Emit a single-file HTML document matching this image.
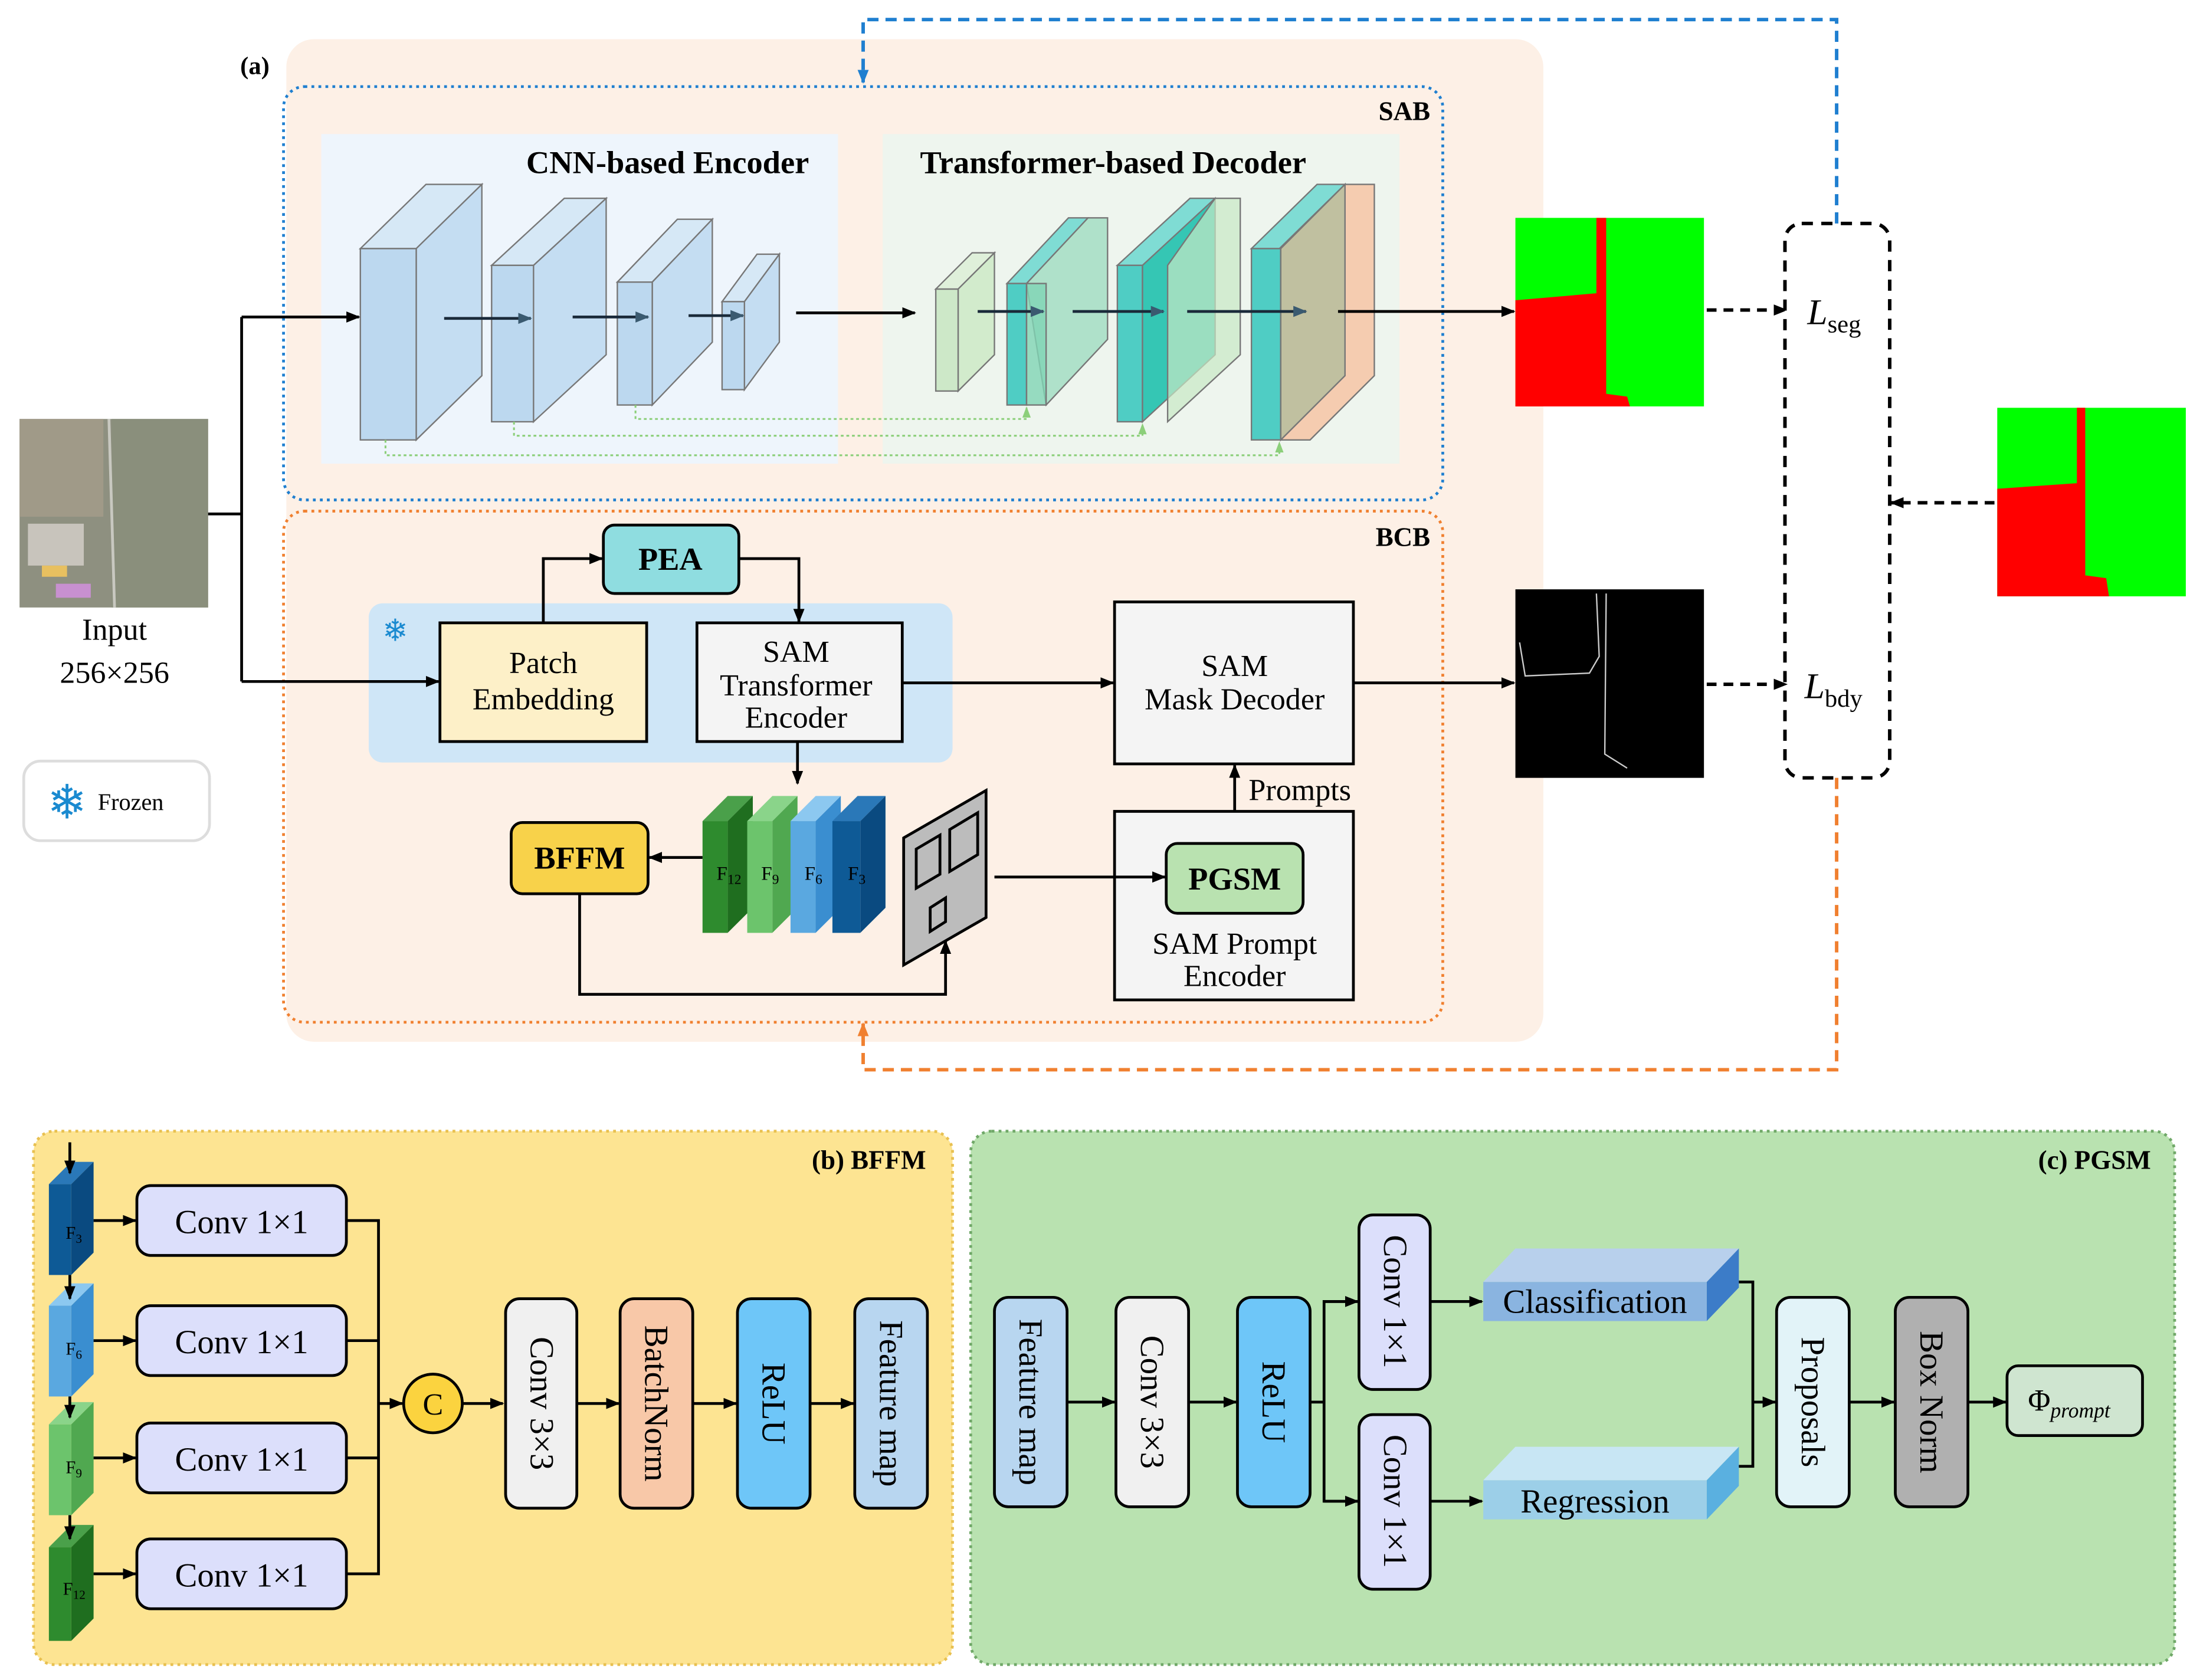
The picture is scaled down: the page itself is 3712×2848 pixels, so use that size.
<!DOCTYPE html>
<html><head><meta charset="utf-8"><style>
html,body{margin:0;padding:0;background:#fff}
svg{display:block}
text{font-family:"Liberation Serif",serif}
</style></head><body>
<svg width="3712" height="2848" viewBox="0 0 1568 1203" xmlns="http://www.w3.org/2000/svg">
<defs>
<marker id="a" markerWidth="10" markerHeight="10" refX="9" refY="5" orient="auto" markerUnits="userSpaceOnUse"><path d="M0,1 L10,5 L0,9 z" fill="#000"/></marker>
<marker id="ab" markerWidth="10" markerHeight="10" refX="9" refY="5" orient="auto" markerUnits="userSpaceOnUse"><path d="M0,1 L10,5 L0,9 z" fill="#1f7fd0"/></marker>
<marker id="ao" markerWidth="10" markerHeight="10" refX="9" refY="5" orient="auto" markerUnits="userSpaceOnUse"><path d="M0,1 L10,5 L0,9 z" fill="#f08030"/></marker>
<marker id="ag" markerWidth="8" markerHeight="8" refX="7" refY="4" orient="auto" markerUnits="userSpaceOnUse"><path d="M0,1 L8,4 L0,7 z" fill="#8ccf7a"/></marker>
<marker id="ad" markerWidth="10" markerHeight="10" refX="9" refY="5" orient="auto" markerUnits="userSpaceOnUse"><path d="M0,1 L10,5 L0,9 z" fill="#3a5a70"/></marker>
</defs>
<rect width="1568" height="1203" fill="#fff"/>
<rect x="205" y="28" width="900" height="718" rx="20" fill="#fdf0e6"/>
<text x="172" y="53" font-size="18" font-weight="bold">(a)</text>
<rect x="203" y="62" width="830" height="296" rx="15" fill="none" stroke="#1f7fd0" stroke-width="2" stroke-dasharray="2,3"/>
<text x="1024" y="86" font-size="19" font-weight="bold" text-anchor="end">SAB</text>
<rect x="230" y="96" width="370" height="236" fill="#eef5fc"/>
<rect x="632" y="96" width="370" height="236" fill="#eef5ee"/>
<text x="478" y="124" font-size="23" font-weight="bold" text-anchor="middle">CNN-based Encoder</text>
<text x="797" y="124" font-size="23" font-weight="bold" text-anchor="middle">Transformer-based Decoder</text>
<g stroke="#777" stroke-width="1">
<polygon points="258,178 305,132 345,132 298,178" fill="#d6e8f6"/><polygon points="298,178 345,132 345,269 298,315" fill="#c4ddf2"/><rect x="258" y="178" width="40" height="137" fill="#bcd8ef"/>
<polygon points="352,190 404,142 434,142 382,190" fill="#d6e8f6"/><polygon points="382,190 434,142 434,254 382,302" fill="#c4ddf2"/><rect x="352" y="190" width="30" height="112" fill="#bcd8ef"/>
<polygon points="442,202 485,157 510,157 467,202" fill="#d6e8f6"/><polygon points="467,202 510,157 510,245 467,290" fill="#c4ddf2"/><rect x="442" y="202" width="25" height="88" fill="#bcd8ef"/>
<polygon points="517,216 542,182 558,182 533,216" fill="#d6e8f6"/><polygon points="533,216 558,182 558,245 533,279" fill="#c4ddf2"/><rect x="517" y="216" width="16" height="63" fill="#bcd8ef"/>
<polygon points="670,207 696,181 712,181 686,207" fill="#dff0da"/><polygon points="686,207 712,181 712,254 686,280" fill="#d2ebcc"/><rect x="670" y="207" width="16" height="73" fill="#cde8c8"/>
<polygon points="721,203 765,156 779,156 735,203" fill="#7fdcd4"/><rect x="721" y="203" width="14" height="87" fill="#4fcdc4"/>
<polygon points="735,203 779,156 793,156 793,243 749,290" fill="#9fdcc0" fill-opacity="0.8"/><rect x="735" y="203" width="14" height="87" fill="#7fd4b4" fill-opacity="0.8"/>
<polygon points="800,190 852,142 870,142 818,190" fill="#7fdcd4"/><rect x="800" y="190" width="18" height="112" fill="#4fcdc4"/><polygon points="818,190 870,142 870,254 818,302" fill="#35c6b4"/>
<polygon points="836,190 870,142 888,142 888,254 836,302" fill="#c8e8c4" fill-opacity="0.7"/>
<polygon points="896,178 943,132 963,132 916,178" fill="#7fdcd4"/><rect x="896" y="178" width="21" height="137" fill="#4fcdc4"/>
<polygon points="917,178 963,132 984,132 984,269 938,315 917,315" fill="#f5c8a8" fill-opacity="0.9"/><polygon points="917,178 963,132 963,269 917,315" fill="#c0c0a0"/>
</g>
<g stroke="#000" stroke-width="2" fill="none">
<line x1="318" y1="228" x2="380" y2="228" marker-end="url(#ad)" stroke="#1a2a3a"/>
<line x1="410" y1="227" x2="464" y2="227" marker-end="url(#ad)" stroke="#1a2a3a"/>
<line x1="493" y1="226" x2="532" y2="226" marker-end="url(#ad)" stroke="#1a2a3a"/>
<line x1="570" y1="224" x2="655" y2="224" marker-end="url(#a)"/>
<line x1="700" y1="223" x2="747" y2="223" marker-end="url(#ad)" stroke="#1a2a3a"/>
<line x1="768" y1="223" x2="833" y2="223" marker-end="url(#ad)" stroke="#1a2a3a"/>
<line x1="850" y1="223" x2="935" y2="223" marker-end="url(#ad)" stroke="#1a2a3a"/>
<line x1="958" y1="223" x2="1084" y2="223" marker-end="url(#a)"/>
</g>
<g stroke="#8ccf7a" stroke-width="1.3" fill="none" stroke-dasharray="2,2">
<polyline points="455,290 455,300 735,300 735,292" marker-end="url(#ag)"/>
<polyline points="368,302 368,312 818,312 818,304" marker-end="url(#ag)"/>
<polyline points="276,315 276,326 916,326 916,317" marker-end="url(#ag)"/>
</g>
<rect x="1085" y="156" width="135" height="135" fill="#00ff00"/>
<polygon points="1085,215 1143,210 1143,156 1150,156 1150,282 1165,284 1167,291 1085,291" fill="#ff0000"/>
<line x1="1222" y1="222" x2="1279" y2="222" stroke="#000" stroke-width="2.5" stroke-dasharray="7,5" marker-end="url(#a)"/>
<rect x="1278" y="160" width="75" height="397" rx="12" fill="#fff" stroke="#000" stroke-width="2.5" stroke-dasharray="8,6"/>
<text x="1294" y="232" font-size="26" font-style="italic">L<tspan font-size="18" font-style="normal" dy="6">seg</tspan></text>
<text x="1292" y="500" font-size="26" font-style="italic">L<tspan font-size="18" font-style="normal" dy="6">bdy</tspan></text>
<rect x="1430" y="292" width="135" height="135" fill="#00ff00"/>
<polygon points="1430,350 1487,346 1487,292 1493,292 1493,412 1508,414 1510,427 1430,427" fill="#ff0000"/>
<line x1="1428" y1="360" x2="1354" y2="360" stroke="#000" stroke-width="2.5" stroke-dasharray="7,5" marker-end="url(#a)"/>
<polyline points="1315,160 1315,14 618,14 618,59" fill="none" stroke="#1f7fd0" stroke-width="2.5" stroke-dasharray="8,5" marker-end="url(#ab)"/>
<polyline points="1315,557 1315,766 618,766 618,733" fill="none" stroke="#f08030" stroke-width="2.5" stroke-dasharray="8,5" marker-end="url(#ao)"/>
<rect x="14" y="300" width="135" height="135" fill="#8e9080"/>
<rect x="14" y="300" width="60" height="70" fill="#a09a88"/>
<rect x="80" y="300" width="69" height="135" fill="#8a8f7c"/>
<line x1="78" y1="300" x2="82" y2="435" stroke="#c8c8c0" stroke-width="2"/>
<rect x="20" y="375" width="40" height="30" fill="#c8c4bc"/>
<rect x="30" y="405" width="18" height="8" fill="#e8c060"/>
<rect x="40" y="418" width="25" height="10" fill="#c890d0"/>
<text x="82" y="458" font-size="22" text-anchor="middle">Input</text>
<text x="82" y="489" font-size="22" text-anchor="middle">256×256</text>
<polyline points="149,368 173,368" stroke="#000" stroke-width="2" fill="none"/>
<polyline points="173,227 173,488" stroke="#000" stroke-width="2" fill="none"/>
<line x1="173" y1="227" x2="257" y2="227" stroke="#000" stroke-width="2" marker-end="url(#a)"/>
<rect x="17" y="545" width="133" height="57" rx="12" fill="#fff" stroke="#ddd" stroke-width="2"/>
<text x="48" y="586" font-size="34" fill="#1a8ad0" text-anchor="middle" font-family="DejaVu Sans">❄</text>
<text x="70" y="580" font-size="17">Frozen</text>
<rect x="203" y="366" width="830" height="366" rx="15" fill="none" stroke="#f08030" stroke-width="2" stroke-dasharray="2,3"/>
<text x="1024" y="391" font-size="19" font-weight="bold" text-anchor="end">BCB</text>
<rect x="264" y="432" width="418" height="114" rx="10" fill="#cfe6f7"/>
<line x1="173" y1="488" x2="314" y2="488" stroke="#000" stroke-width="2" marker-end="url(#a)"/>
<text x="283" y="459" font-size="22" fill="#1a8ad0" text-anchor="middle" font-family="DejaVu Sans">❄</text>
<rect x="315" y="446" width="148" height="85" fill="#fdf0c8" stroke="#000" stroke-width="2"/>
<text x="389" y="482" font-size="22" text-anchor="middle">Patch</text>
<text x="389" y="508" font-size="22" text-anchor="middle">Embedding</text>
<rect x="499" y="446" width="147" height="85" fill="#f4f4f4" stroke="#000" stroke-width="2"/>
<text x="570" y="474" font-size="22" text-anchor="middle">SAM</text>
<text x="570" y="498" font-size="22" text-anchor="middle">Transformer</text>
<text x="570" y="521" font-size="22" text-anchor="middle">Encoder</text>
<rect x="432" y="376" width="97" height="49" rx="8" fill="#8fdde0" stroke="#000" stroke-width="2"/>
<text x="480" y="408" font-size="23" font-weight="bold" text-anchor="middle">PEA</text>
<polyline points="389,446 389,400 431,400" fill="none" stroke="#000" stroke-width="2" marker-end="url(#a)"/>
<polyline points="529,400 572,400 572,445" fill="none" stroke="#000" stroke-width="2" marker-end="url(#a)"/>
<line x1="646" y1="489" x2="797" y2="489" stroke="#000" stroke-width="2" marker-end="url(#a)"/>
<rect x="798" y="431" width="171" height="116" fill="#f4f4f4" stroke="#000" stroke-width="2"/>
<text x="884" y="484" font-size="22" text-anchor="middle">SAM</text>
<text x="884" y="508" font-size="22" text-anchor="middle">Mask Decoder</text>
<line x1="969" y1="489" x2="1084" y2="489" stroke="#000" stroke-width="2" marker-end="url(#a)"/>
<rect x="1085" y="422" width="135" height="135" fill="#000"/>
<polyline points="1143,425 1145,470 1138,482 1092,484 1088,460" fill="none" stroke="#ccc" stroke-width="1"/>
<polyline points="1150,425 1149,540 1165,550" fill="none" stroke="#ccc" stroke-width="1"/>
<line x1="1222" y1="490" x2="1279" y2="490" stroke="#000" stroke-width="2.5" stroke-dasharray="7,5" marker-end="url(#a)"/>
<line x1="571" y1="531" x2="571" y2="561" stroke="#000" stroke-width="2" marker-end="url(#a)"/>
<g>
<polygon points="503,588 521,570 539,570 521,588" fill="#4aa04a"/><polygon points="521,588 539,570 539,650 521,668" fill="#1f6e1f"/><rect x="503" y="588" width="18" height="80" fill="#2e8b2e"/>
<polygon points="535,588 553,570 571,570 553,588" fill="#8ad48a"/><polygon points="553,588 571,570 571,650 553,668" fill="#50a850"/><rect x="535" y="588" width="18" height="80" fill="#6cc46c"/>
<polygon points="566,588 584,570 602,570 584,588" fill="#8cc8f0"/><polygon points="584,588 602,570 602,650 584,668" fill="#3a8ed0"/><rect x="566" y="588" width="18" height="80" fill="#5aa8e0"/>
<polygon points="596,588 614,570 634,570 616,588" fill="#2a78b8"/><polygon points="616,588 634,570 634,650 616,668" fill="#0a4a80"/><rect x="596" y="588" width="20" height="80" fill="#0e5a96"/>
<text x="513" y="630" font-size="14">F<tspan font-size="10" dy="3">12</tspan></text>
<text x="545" y="630" font-size="14">F<tspan font-size="10" dy="3">9</tspan></text>
<text x="576" y="630" font-size="14">F<tspan font-size="10" dy="3">6</tspan></text>
<text x="607" y="630" font-size="14">F<tspan font-size="10" dy="3">3</tspan></text>
</g>
<rect x="366" y="589" width="98" height="51" rx="8" fill="#f8d24a" stroke="#000" stroke-width="2"/>
<text x="415" y="622" font-size="23" font-weight="bold" text-anchor="middle">BFFM</text>
<line x1="503" y1="614" x2="465" y2="614" stroke="#000" stroke-width="2" marker-end="url(#a)"/>
<polygon points="647,600 706,566 706,657 647,691" fill="#bcbcbc" stroke="#000" stroke-width="2"/>
<polygon points="656,608 673,598 673,626 656,636" fill="none" stroke="#000" stroke-width="2"/>
<polygon points="680,594 700,582 700,612 680,624" fill="none" stroke="#000" stroke-width="2"/>
<polygon points="666,650 677,643 677,660 666,667" fill="none" stroke="#000" stroke-width="2"/>
<rect x="798" y="581" width="171" height="135" fill="#f4f4f4" stroke="#000" stroke-width="2"/>
<line x1="712" y1="628" x2="834" y2="628" stroke="#000" stroke-width="2" marker-end="url(#a)"/>
<rect x="835" y="604" width="98" height="50" rx="8" fill="#b9e2b0" stroke="#000" stroke-width="2"/>
<text x="884" y="637" font-size="23" font-weight="bold" text-anchor="middle">PGSM</text>
<text x="884" y="683" font-size="22" text-anchor="middle">SAM Prompt</text>
<text x="884" y="706" font-size="22" text-anchor="middle">Encoder</text>
<line x1="884" y1="581" x2="884" y2="548" stroke="#000" stroke-width="2" marker-end="url(#a)"/>
<text x="894" y="573" font-size="22">Prompts</text>
<polyline points="415,640 415,712 677,712 677,674" fill="none" stroke="#000" stroke-width="2" marker-end="url(#a)"/>
<rect x="24" y="810" width="658" height="382" rx="15" fill="#fde492" stroke="#e8c050" stroke-width="2" stroke-dasharray="2,3"/>
<text x="663" y="837" font-size="19" font-weight="bold" text-anchor="end">(b) BFFM</text>
<g>
<polygon points="35,848 51,832 67,832 51,848" fill="#2a78b8"/><polygon points="51,848 67,832 67,897 51,913" fill="#0a4a80"/><rect x="35" y="848" width="16" height="65" fill="#0e5a96"/>
<polygon points="35,935 51,919 67,919 51,935" fill="#8cc8f0"/><polygon points="51,935 67,919 67,984 51,1000" fill="#3a8ed0"/><rect x="35" y="935" width="16" height="65" fill="#5aa8e0"/>
<polygon points="35,1020 51,1004 67,1004 51,1020" fill="#8ad48a"/><polygon points="51,1020 67,1004 67,1069 51,1085" fill="#50a850"/><rect x="35" y="1020" width="16" height="65" fill="#6cc46c"/>
<polygon points="35,1108 51,1092 67,1092 51,1108" fill="#4aa04a"/><polygon points="51,1108 67,1092 67,1159 51,1175" fill="#1f6e1f"/><rect x="35" y="1108" width="16" height="67" fill="#2e8b2e"/>
<text x="47" y="887" font-size="13">F<tspan font-size="9" dy="3">3</tspan></text>
<text x="47" y="970" font-size="13">F<tspan font-size="9" dy="3">6</tspan></text>
<text x="47" y="1055" font-size="13">F<tspan font-size="9" dy="3">9</tspan></text>
<text x="45" y="1142" font-size="13">F<tspan font-size="9" dy="3">12</tspan></text>
</g>
<g stroke="#000" stroke-width="2" fill="none">
<line x1="50" y1="818" x2="50" y2="840" marker-end="url(#a)"/>
<line x1="50" y1="913" x2="50" y2="930" marker-end="url(#a)"/>
<line x1="50" y1="1000" x2="50" y2="1015" marker-end="url(#a)"/>
<line x1="50" y1="1085" x2="50" y2="1102" marker-end="url(#a)"/>
<line x1="67" y1="874" x2="97" y2="874" marker-end="url(#a)"/>
<line x1="67" y1="960" x2="97" y2="960" marker-end="url(#a)"/>
<line x1="67" y1="1044" x2="97" y2="1044" marker-end="url(#a)"/>
<line x1="67" y1="1127" x2="97" y2="1127" marker-end="url(#a)"/>
<polyline points="248,874 271,874 271,1127 248,1127"/>
<line x1="248" y1="960" x2="271" y2="960"/><line x1="248" y1="1044" x2="271" y2="1044"/>
<line x1="271" y1="1005" x2="288" y2="1005" marker-end="url(#a)"/>
<line x1="331" y1="1005" x2="360" y2="1005" marker-end="url(#a)"/>
<line x1="413" y1="1005" x2="443" y2="1005" marker-end="url(#a)"/>
<line x1="496" y1="1005" x2="527" y2="1005" marker-end="url(#a)"/>
<line x1="580" y1="1005" x2="611" y2="1005" marker-end="url(#a)"/>
</g>
<g stroke="#000" stroke-width="2" fill="#dcdffb">
<rect x="98" y="849" width="150" height="50" rx="10"/>
<rect x="98" y="935" width="150" height="50" rx="10"/>
<rect x="98" y="1019" width="150" height="50" rx="10"/>
<rect x="98" y="1102" width="150" height="50" rx="10"/>
</g>
<g font-size="24" text-anchor="middle">
<text x="173" y="883">Conv 1×1</text><text x="173" y="969">Conv 1×1</text><text x="173" y="1053">Conv 1×1</text><text x="173" y="1136">Conv 1×1</text>
</g>
<circle cx="310" cy="1005" r="21" fill="#fbd33f" stroke="#000" stroke-width="2"/>
<text x="310" y="1013" font-size="22" text-anchor="middle">C</text>
<g stroke="#000" stroke-width="2">
<rect x="362" y="930" width="51" height="150" rx="10" fill="#f0f0f0"/>
<rect x="444" y="930" width="52" height="150" rx="10" fill="#f8c8a8"/>
<rect x="528" y="930" width="52" height="150" rx="10" fill="#6ec6f8"/>
<rect x="612" y="930" width="52" height="150" rx="10" fill="#b8d6f0"/>
</g>
<g font-size="24" text-anchor="middle">
<text transform="translate(380,1005) rotate(90)">Conv 3×3</text>
<text transform="translate(462,1005) rotate(90)">BatchNorm</text>
<text transform="translate(546,1005) rotate(90)">ReLU</text>
<text transform="translate(630,1005) rotate(90)">Feature map</text>
</g>
<rect x="695" y="810" width="862" height="382" rx="15" fill="#b9e2b0" stroke="#70a868" stroke-width="2" stroke-dasharray="2,3"/>
<text x="1540" y="837" font-size="19" font-weight="bold" text-anchor="end">(c) PGSM</text>
<g stroke="#000" stroke-width="2">
<rect x="712" y="929" width="52" height="150" rx="10" fill="#b8d6f0"/>
<rect x="799" y="929" width="52" height="150" rx="10" fill="#f0f0f0"/>
<rect x="886" y="929" width="52" height="150" rx="10" fill="#6ec6f8"/>
<rect x="973" y="870" width="51" height="125" rx="10" fill="#dcdffb"/>
<rect x="973" y="1013" width="51" height="125" rx="10" fill="#dcdffb"/>
<rect x="1272" y="929" width="52" height="150" rx="10" fill="#e2f3f8"/>
<rect x="1357" y="929" width="52" height="150" rx="10" fill="#b0b0b0"/>
<rect x="1437" y="978" width="97" height="50" rx="8" fill="#cfe5d0"/>
</g>
<polygon points="1062,918 1085,894 1245,894 1222,918" fill="#b8d0ec"/>
<polygon points="1222,918 1245,894 1245,922 1222,946" fill="#3c7cc8"/>
<rect x="1062" y="918" width="160" height="28" fill="#8ab4e0"/>
<polygon points="1062,1060 1085,1036 1245,1036 1222,1060" fill="#c8e6f4"/>
<polygon points="1222,1060 1245,1036 1245,1064 1222,1088" fill="#5ab0e0"/>
<rect x="1062" y="1060" width="160" height="28" fill="#9ccfe8"/>
<g font-size="24" text-anchor="middle">
<text transform="translate(730,1004) rotate(90)">Feature map</text>
<text transform="translate(817,1004) rotate(90)">Conv 3×3</text>
<text transform="translate(904,1004) rotate(90)">ReLU</text>
<text transform="translate(991,932) rotate(90)">Conv 1×1</text>
<text transform="translate(991,1075) rotate(90)">Conv 1×1</text>
<text transform="translate(1290,1004) rotate(90)">Proposals</text>
<text transform="translate(1375,1004) rotate(90)">Box Norm</text>
<text x="1142" y="940">Classification</text>
<text x="1142" y="1083">Regression</text>
</g>
<text x="1452" y="1010" font-size="22">Φ<tspan font-size="15" font-style="italic" dy="5">prompt</tspan></text>
<g stroke="#000" stroke-width="2" fill="none">
<line x1="764" y1="1004" x2="798" y2="1004" marker-end="url(#a)"/>
<line x1="851" y1="1004" x2="885" y2="1004" marker-end="url(#a)"/>
<line x1="938" y1="1004" x2="948" y2="1004"/>
<polyline points="972,932 948,932 948,1075 972,1075"/>
<line x1="948" y1="932" x2="972" y2="932" marker-end="url(#a)"/>
<line x1="948" y1="1075" x2="972" y2="1075" marker-end="url(#a)"/>
<line x1="1024" y1="932" x2="1061" y2="932" marker-end="url(#a)"/>
<line x1="1024" y1="1075" x2="1061" y2="1075" marker-end="url(#a)"/>
<polyline points="1245,918 1255,918 1255,1050 1245,1050"/>
<line x1="1255" y1="1004" x2="1271" y2="1004" marker-end="url(#a)"/>
<line x1="1324" y1="1004" x2="1356" y2="1004" marker-end="url(#a)"/>
<line x1="1409" y1="1004" x2="1436" y2="1004" marker-end="url(#a)"/>
</g>
</svg>
</body></html>
